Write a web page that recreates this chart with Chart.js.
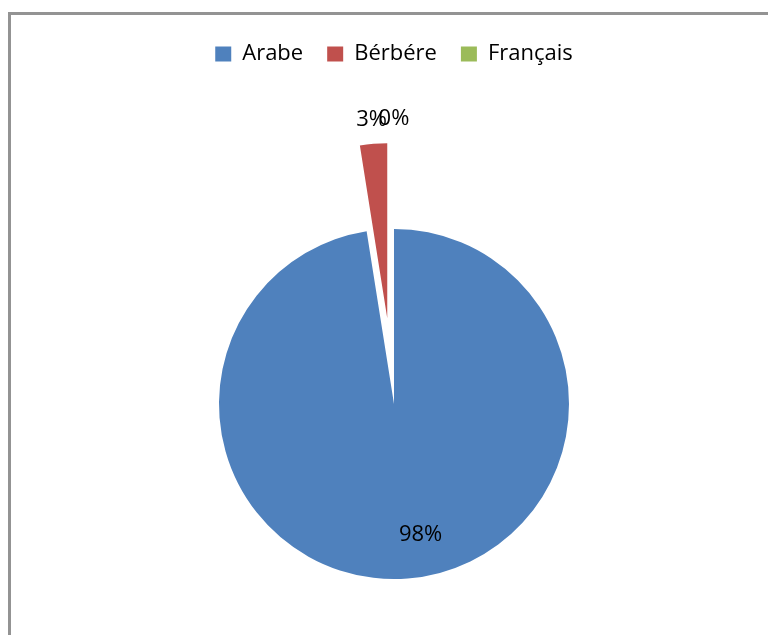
<!DOCTYPE html>
<html>
<head>
<meta charset="utf-8">
<script src="https://cdn.jsdelivr.net/npm/chart.js@4.4.1/dist/chart.umd.min.js"></script>
<style>
  html, body { margin: 0; padding: 0; background: #fff; overflow: hidden; }
  #frame {
    position: absolute; left: 8px; top: 12px; width: 800px; height: 700px;
    border-top: 3px solid #939393; border-left: 3px solid #939393;
  }
  #pie { position: absolute; left: 0; top: 0; }
</style>
</head>
<body>
<div id="frame"></div>
<canvas id="pie" width="768" height="635"></canvas>
<script>
// data
const languages = ['Arabe', 'Bérbére', 'Français'];
const shares = [97.5, 2.5, 0];
const sliceColors = ['#4F81BD', '#C0504D', '#9BBB59'];

// how far (px) each slice is pulled out, like the excel "explode"
const explodeDist = [0, 86, 86];

// legend block height so the pie sits where it does in the picture
const legendHeight = {
  id: 'legendHeight',
  beforeUpdate(chart) {
    const legend = chart.legend;
    if (!legend || legend._patched) return;
    const fit = legend.fit;
    legend.fit = function () {
      fit.call(this);
      this.height = 154;
    };
    legend._patched = true;
  }
};

// chart.js offset also grows the slice, so just shift the arc instead
const explodeSlices = {
  id: 'explodeSlices',
  afterUpdate(chart) {
    chart.getDatasetMeta(0).data.forEach((arc, i) => {
      const d = explodeDist[i] || 0;
      if (!d || arc._exploded) return;
      const baseDraw = Object.getPrototypeOf(arc).draw;
      arc.draw = function (ctx, area) {
        const mid = (this.startAngle + this.endAngle) / 2;
        ctx.save();
        ctx.translate(Math.cos(mid) * d, Math.sin(mid) * d);
        baseDraw.call(this, ctx, area);
        ctx.restore();
      };
      arc._exploded = true;
    });
  }
};

// percentage labels, inside for the big slice, outside for the small ones
const pctLabels = {
  id: 'pctLabels',
  afterDatasetsDraw(chart) {
    const ctx = chart.ctx;
    const meta = chart.getDatasetMeta(0);
    const data = chart.data.datasets[0].data;
    const total = data.reduce((a, b) => a + b, 0);
    ctx.save();
    ctx.font = '22px "Open Sans"';
    ctx.fillStyle = '#000';
    ctx.textAlign = 'center';
    ctx.textBaseline = 'middle';
    meta.data.forEach((arc, i) => {
      const p = arc.getProps(['x', 'y', 'startAngle', 'endAngle', 'outerRadius'], true);
      const mid = (p.startAngle + p.endAngle) / 2;
      const pct = Math.round(data[i] / total * 100);
      let x, y;
      if (pct >= 50) {
        const r = p.outerRadius * 0.77;
        x = p.x + Math.cos(mid) * r + 16;
        y = p.y + Math.sin(mid) * r - 4;
      } else {
        const r = p.outerRadius + (explodeDist[i] || 0) + 24;
        x = p.x + Math.cos(mid) * r;
        y = p.y + Math.sin(mid) * r;
      }
      ctx.fillText(pct + '%', x, y);
    });
    ctx.restore();
  }
};

const ctx = document.getElementById('pie').getContext('2d');
new Chart(ctx, {
  type: 'pie',
  data: {
    labels: languages,
    datasets: [{
      data: shares,
      backgroundColor: sliceColors,
      borderWidth: 0
    }]
  },
  options: {
    responsive: false,
    animation: false,
    devicePixelRatio: 1,
    radius: 175,
    layout: { padding: { left: 20, right: 0, top: 19, bottom: 0 } },
    plugins: {
      tooltip: { enabled: false },
      legend: {
        position: 'top',
        labels: {
          boxWidth: 16,
          boxHeight: 15,
          padding: 24,
          color: '#000',
          font: { family: '"Open Sans"', size: 22 }
        }
      }
    }
  },
  plugins: [legendHeight, explodeSlices, pctLabels]
});
</script>
</body>
</html>
